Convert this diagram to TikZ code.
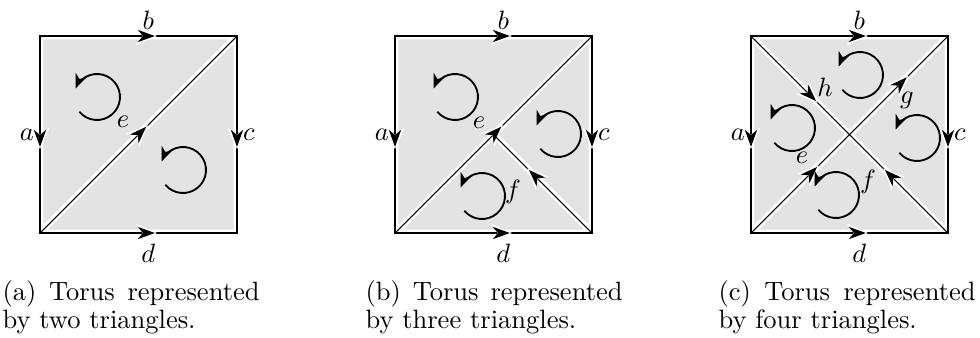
\documentclass[tikz,border=0pt]{standalone}
\usetikzlibrary{arrows.meta,decorations.markings}
\tikzset{
  face/.style={fill=black!11,draw=white,line width=2.5pt,line join=round},
  rim/.style={line width=0.7pt,line cap=rect},
  cut/.style={line width=0.4pt},
  midarrow/.style={postaction={decorate},decoration={markings,mark=at position #1 with {\arrow[xshift=4pt]{Stealth[white,length=8pt,width=7pt]}\arrow[xshift=3.2pt]{Stealth[length=6.4pt,width=4.6pt,inset=1.9pt]}}}},
  midarrow/.default=0.52,
  twirl/.style={line width=0.7pt,-{Stealth[length=5.4pt,width=4.4pt,inset=1.6pt]}},
  lab/.style={inner sep=2pt},
  subcap/.style={text width=97pt,align=justify,inner sep=0pt,anchor=north west,
    font=\fontsize{10}{9.4}\selectfont},
}
\newcommand\loopat[1]{\draw[twirl] (#1) ++(220:23) arc[start angle=220,end angle=518,radius=23];}
\begin{document}
\begin{tikzpicture}[x=0.3774pt,y=0.3774pt]
  \useasboundingbox (0,0) rectangle (980,337);
  % (a) two triangles
  \begin{scope}[shift={(40,104)}]
    \coordinate (Asw) at (0,0);   \coordinate (Ase) at (197,0);
    \coordinate (Ane) at (197,197); \coordinate (Anw) at (0,197);
    \path[face] (Asw) -- (Anw) -- (Ane) -- cycle;
    \path[face] (Asw) -- (Ane) -- (Ase) -- cycle;
    \draw[rim,midarrow] (Anw) -- node[lab,left] (Aa) {$a$} (Asw);
    \draw[rim,midarrow=0.54] (Anw) -- node[lab,above,pos=0.55] (Ab) {$b$} (Ane);
    \draw[rim,midarrow] (Ane) -- node[lab,right] (Ac) {$c$} (Ase);
    \draw[rim,midarrow=0.54] (Asw) -- node[lab,below=1.8pt,pos=0.55] (Ad) {$d$} (Ase);
    \draw[cut,midarrow=0.51] (Asw) -- (Ane);
    \node (Ae) at (83,111) {$e$};
    \loopat{57,136}
    \loopat{143,63}
  \end{scope}
  % (b) three triangles
  \begin{scope}[shift={(395,104)}]
    \coordinate (Bsw) at (0,0);   \coordinate (Bse) at (197,0);
    \coordinate (Bne) at (197,197); \coordinate (Bnw) at (0,197);
    \coordinate (Bm) at (98.5,98.5);
    \path[face] (Bsw) -- (Bnw) -- (Bne) -- cycle;
    \path[face] (Bm) -- (Bne) -- (Bse) -- cycle;
    \path[face] (Bsw) -- (Bm) -- (Bse) -- cycle;
    \draw[rim,midarrow] (Bnw) -- node[lab,left] (Ba) {$a$} (Bsw);
    \draw[rim,midarrow=0.54] (Bnw) -- node[lab,above,pos=0.55] (Bb) {$b$} (Bne);
    \draw[rim,midarrow] (Bne) -- node[lab,right] (Bc) {$c$} (Bse);
    \draw[rim,midarrow=0.54] (Bsw) -- node[lab,below=1.8pt,pos=0.55] (Bd) {$d$} (Bse);
    \draw[cut,midarrow=0.51] (Bsw) -- (Bne);
    \draw[cut,midarrow=0.58] (Bse) -- (Bm);
    \node (Be) at (84,110) {$e$};
    \node (Bf) at (118,41) {$f$};
    \loopat{60,136}
    \loopat{163,99}
    \loopat{87,37}
  \end{scope}
  % (c) four triangles
  \begin{scope}[shift={(751,104)}]
    \coordinate (Csw) at (0,0);   \coordinate (Cse) at (197,0);
    \coordinate (Cne) at (197,197); \coordinate (Cnw) at (0,197);
    \coordinate (Cm) at (98.5,98.5);
    \path[face] (Csw) -- (Cnw) -- (Cm) -- cycle;
    \path[face] (Cnw) -- (Cne) -- (Cm) -- cycle;
    \path[face] (Cne) -- (Cse) -- (Cm) -- cycle;
    \path[face] (Cse) -- (Csw) -- (Cm) -- cycle;
    \draw[rim,midarrow] (Cnw) -- node[lab,left] (Ca) {$a$} (Csw);
    \draw[rim,midarrow=0.54] (Cnw) -- node[lab,above,pos=0.55] (Cb) {$b$} (Cne);
    \draw[rim,midarrow] (Cne) -- node[lab,right] (Cc) {$c$} (Cse);
    \draw[rim,midarrow=0.54] (Csw) -- node[lab,below=1.8pt,pos=0.55] (Cd) {$d$} (Cse);
    \draw[cut,midarrow=0.61] (Csw) -- (Cm);
    \draw[cut,midarrow=0.52] (Cm) -- (Cne);
    \draw[cut,midarrow=0.6] (Cnw) -- (Cm);
    \draw[cut,midarrow=0.58] (Cse) -- (Cm);
    \node (Ch) at (74,146) {$h$};
    \node (Cg) at (156,133) {$g$};
    \node (Ce) at (51,75) {$e$};
    \node (Cf) at (117,51) {$f$};
    \loopat{109,158}
    \loopat{41,105}
    \loopat{166,95}
    \loopat{85,38}
  \end{scope}
  % captions
  \node[subcap] (capA) at (2,57) {(a) Torus represented by two triangles.};
  \node[subcap] (capB) at (365,57) {(b) Torus represented by three triangles.};
  \node[subcap] (capC) at (718,57) {(c) Torus represented by four triangles.};
\end{tikzpicture}
\end{document}
